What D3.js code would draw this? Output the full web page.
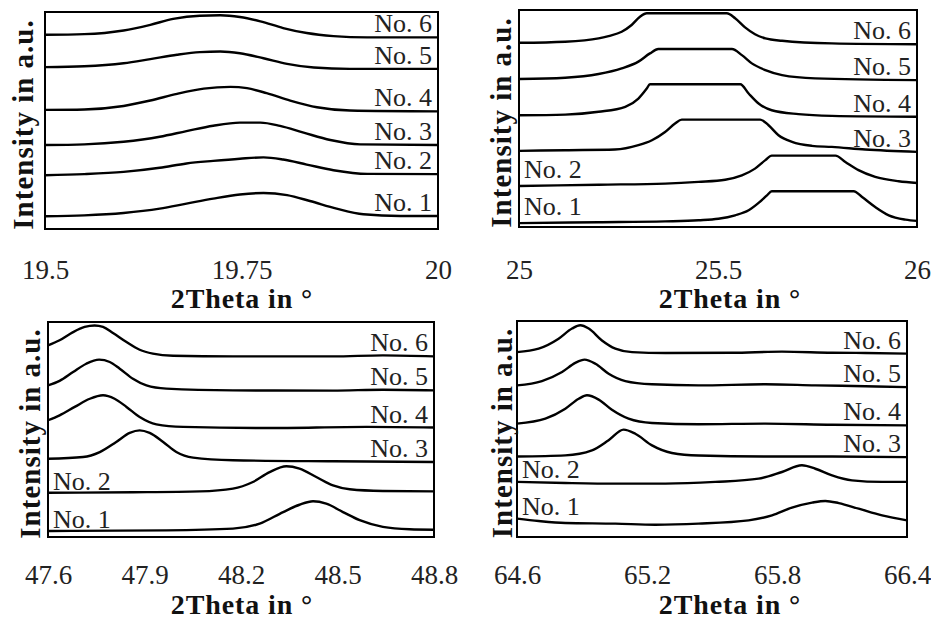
<!DOCTYPE html>
<html>
<head>
<meta charset="utf-8">
<script src="https://cdn.jsdelivr.net/npm/d3@7"></script>
<style>
  body { margin: 0; background: #fff; }
  svg text { font-family: "Liberation Serif", "Times New Roman", serif; }
</style>
</head>
<body>
<svg id="chart" width="931" height="620"></svg>
<script>
// Sample names, bottom to top
const sampleNames = ["No. 1", "No. 2", "No. 3", "No. 4", "No. 5", "No. 6"];

// 2θ tick positions and their labels for each reflection window
const ticks19 = [19.5, 19.75, 20];
const tickText19 = ["19.5", "19.75", "20"];
const ticks25 = [25, 25.5, 26];
const tickText25 = ["25", "25.5", "26"];
const ticks48 = [47.6, 47.9, 48.2, 48.5, 48.8];
const tickText48 = ["47.6", "47.9", "48.2", "48.5", "48.8"];
const ticks65 = [64.6, 65.2, 65.8, 66.4];
const tickText65 = ["64.6", "65.2", "65.8", "66.4"];

// Stacked diffraction intensity (a.u.), [2θ, intensity], samples No. 1 … No. 6
const scan19 = [
  [[19.5,5.9],[19.55,6.3],[19.6,7.4],[19.646,9.4],[19.68,11.7],[19.714,14.0],[19.748,15.9],[19.778,16.6],[19.808,15.6],[19.837,12.9],[19.871,9.4],[19.905,6.8],[19.952,6.0],[20,6.0]],
  [[19.5,24.8],[19.55,25.3],[19.6,26.3],[19.646,28.2],[19.68,30.2],[19.714,31.4],[19.748,32.4],[19.778,33.0],[19.803,32.0],[19.833,29.7],[19.867,27.1],[19.91,25.4],[20,25.3]],
  [[19.5,38.7],[19.55,39.0],[19.6,40.2],[19.646,42.5],[19.68,45.1],[19.714,47.6],[19.748,49.0],[19.774,49.0],[19.799,47.5],[19.829,44.4],[19.863,41.0],[19.901,39.0],[20,38.7]],
  [[19.5,54.9],[19.55,55.1],[19.6,56.7],[19.634,59.2],[19.668,62.3],[19.702,64.7],[19.736,65.5],[19.757,64.9],[19.782,62.6],[19.812,59.2],[19.846,56.1],[19.888,54.6],[20,54.2]],
  [[19.5,74.6],[19.55,75.0],[19.6,76.4],[19.634,78.3],[19.668,80.3],[19.697,81.5],[19.723,81.8],[19.748,81.0],[19.778,78.7],[19.808,76.1],[19.842,74.4],[19.888,73.8],[20,73.8]],
  [[19.5,89.5],[19.55,89.8],[19.6,91.5],[19.634,94.1],[19.663,96.8],[19.697,98.3],[19.723,98.5],[19.748,97.7],[19.774,95.7],[19.803,92.6],[19.833,90.3],[19.867,88.9],[19.91,88.3],[20,88.3]]
];

const scan25 = [
  [[25,1.8],[25.2,2.2],[25.367,2.6],[25.451,3.1],[25.501,3.8],[25.543,5.4],[25.577,7.7],[25.602,11.1],[25.623,14.6],[25.635,16.5],[25.841,16.5],[25.862,13.8],[25.895,9.2],[25.929,5.4],[25.971,3.4],[26,2.8]],
  [[25,18.9],[25.2,19.5],[25.367,20.0],[25.451,20.8],[25.518,21.8],[25.56,23.8],[25.593,26.9],[25.619,30.8],[25.635,32.9],[25.795,32.9],[25.82,30.0],[25.853,26.2],[25.895,23.1],[25.954,21.1],[26,20.3]],
  [[25,35.1],[25.116,35.4],[25.241,35.7],[25.3,37.7],[25.334,40.0],[25.367,43.8],[25.392,47.7],[25.409,49.5],[25.606,49.5],[25.627,46.9],[25.652,42.3],[25.686,39.2],[25.736,37.4],[25.786,36.9],[25.87,35.7],[26,34.6]],
  [[25,51.5],[25.116,51.8],[25.2,53.1],[25.267,55.4],[25.3,59.2],[25.321,63.8],[25.329,65.8],[25.556,65.8],[25.577,61.5],[25.602,56.9],[25.635,53.8],[25.702,52.0],[25.786,51.2],[26,50.8]],
  [[25,68.2],[25.116,68.8],[25.2,70.5],[25.258,73.1],[25.3,76.2],[25.329,80.0],[25.35,82.0],[25.535,82.0],[25.56,79.2],[25.585,75.4],[25.619,72.3],[25.661,70.0],[25.744,68.5],[26,67.7]],
  [[25,84.9],[25.116,85.4],[25.2,86.9],[25.225,88.0],[25.258,90.0],[25.283,93.1],[25.304,96.9],[25.321,98.5],[25.522,98.5],[25.543,96.2],[25.568,92.0],[25.593,88.8],[25.619,86.9],[25.661,85.8],[25.786,84.6],[26,84.2]]
];

const scan48 = [
  [[47.6,2.8],[47.968,3.1],[48.175,3.9],[48.258,6.2],[48.331,11.6],[48.382,15.0],[48.424,16.6],[48.465,15.5],[48.517,11.6],[48.569,7.8],[48.641,4.7],[48.724,3.6],[48.8,3.4]],
  [[47.6,20.6],[47.864,20.8],[48.072,21.2],[48.175,22.5],[48.237,25.6],[48.289,30.2],[48.341,32.9],[48.382,31.8],[48.434,27.9],[48.486,24.0],[48.538,22.2],[48.641,21.4],[48.8,21.2]],
  [[47.6,36.4],[47.709,37.2],[47.761,39.5],[47.812,44.2],[47.854,48.4],[47.885,49.6],[47.916,48.4],[47.958,44.2],[47.999,39.5],[48.051,36.9],[48.175,35.7],[48.486,35.2],[48.8,34.9]],
  [[47.6,54.3],[47.636,56.6],[47.683,60.5],[47.73,64.3],[47.771,65.9],[47.807,64.3],[47.844,60.5],[47.885,55.8],[47.937,52.4],[48.02,51.2],[48.279,50.7],[48.59,51.2],[48.8,50.9]],
  [[47.6,70.5],[47.636,72.6],[47.678,76.7],[47.719,80.6],[47.759,82.5],[47.792,81.4],[47.823,78.3],[47.864,73.6],[47.906,70.5],[47.968,69.0],[48.175,68.2],[48.486,68.1],[48.641,68.5],[48.8,68.2]],
  [[47.6,89.1],[47.636,91.5],[47.678,95.3],[47.714,97.7],[47.745,98.4],[47.771,97.7],[47.802,94.9],[47.844,90.7],[47.885,87.1],[47.926,85.3],[47.989,84.3],[48.175,84.0],[48.486,84.0],[48.641,84.5],[48.8,84.0]]
];

const scan65 = [
  [[64.6,8.5],[64.7,7.4],[64.823,6.5],[65.054,6.2],[65.238,5.7],[65.438,6.2],[65.669,7.7],[65.777,10.0],[65.869,13.6],[65.962,15.9],[66.023,16.7],[66.085,15.7],[66.177,13.1],[66.285,10.0],[66.4,7.7]],
  [[64.6,25.5],[64.823,25.0],[65.054,24.7],[65.285,24.7],[65.515,25.5],[65.715,27.0],[65.823,30.1],[65.915,33.2],[65.977,31.6],[66.054,28.5],[66.146,26.2],[66.285,25.5],[66.4,25.5]],
  [[64.6,37.3],[64.823,37.8],[64.946,40.1],[65.023,44.8],[65.092,49.7],[65.146,47.8],[65.223,42.4],[65.315,38.9],[65.438,37.7],[65.746,37.3],[66.054,37.3],[66.4,37.0]],
  [[64.6,52.5],[64.731,54.8],[64.823,59.4],[64.885,64.0],[64.923,65.6],[64.977,63.6],[65.038,58.9],[65.115,54.8],[65.223,52.8],[65.438,52.2],[65.746,52.5],[66.054,52.0],[66.4,51.7]],
  [[64.6,70.2],[64.715,72.2],[64.808,76.4],[64.869,80.6],[64.912,82.1],[64.962,80.2],[65.023,75.6],[65.1,72.2],[65.223,70.7],[65.438,70.2],[65.746,70.7],[65.977,70.2],[66.208,69.8],[66.4,69.4]],
  [[64.6,85.6],[64.7,87.2],[64.792,91.8],[64.854,96.5],[64.892,98.0],[64.931,96.5],[64.992,91.0],[65.054,87.2],[65.131,85.6],[65.285,85.2],[65.592,85.3],[65.823,85.8],[66.054,85.3],[66.208,85.2],[66.4,84.9]]
];

// Which samples get their name on the left edge of each panel
const leftLabels19 = [];
const leftLabels25 = ["No. 1", "No. 2"];
const leftLabels48 = ["No. 1", "No. 2"];
const leftLabels65 = ["No. 1", "No. 2"];

// Panel layout
const panels = [
  { scans: scan19, ticks: ticks19, tickText: tickText19, left: leftLabels19,
    box: { x0: 45, x1: 438, y0: 12, y1: 229 }, titleX: 242, yLabelX: 33, leftLift: 6,
    tickDy: 50, titleDy: 79 },
  { scans: scan25, ticks: ticks25, tickText: tickText25, left: leftLabels25,
    box: { x0: 519, x1: 917, y0: 10, y1: 227 }, titleX: 730, yLabelX: 511, leftLift: 8,
    tickDy: 52, titleDy: 81 },
  { scans: scan48, ticks: ticks48, tickText: tickText48, left: leftLabels48,
    box: { x0: 48, x1: 434, y0: 322, y1: 537 }, titleX: 242, yLabelX: 40, leftLift: 3,
    tickDy: 47, titleDy: 76.5 },
  { scans: scan65, ticks: ticks65, tickText: tickText65, left: leftLabels65,
    box: { x0: 517, x1: 907, y0: 321, y1: 537 }, titleX: 730, yLabelX: 512, leftLift: 4,
    tickDy: 47, titleDy: 76.5 }
];

const svg = d3.select("#chart");

panels.forEach(p => {
  const b = p.box;
  const x = d3.scaleLinear()
    .domain([p.ticks[0], p.ticks[p.ticks.length - 1]])
    .range([b.x0, b.x1]);
  const y = d3.scaleLinear().domain([0, 100]).range([b.y1, b.y0]);

  const g = svg.append("g");

  // frame
  g.append("rect")
    .attr("x", b.x0).attr("y", b.y0)
    .attr("width", b.x1 - b.x0).attr("height", b.y1 - b.y0)
    .attr("fill", "none").attr("stroke", "#000").attr("stroke-width", 2);

  const line = d3.line()
    .x(d => x(d[0])).y(d => y(d[1]))
    .curve(d3.curveMonotoneX);

  // diffraction traces
  g.selectAll("path.trace")
    .data(p.scans)
    .join("path")
    .attr("class", "trace")
    .attr("d", line)
    .attr("fill", "none")
    .attr("stroke", "#000")
    .attr("stroke-width", 2.4)
    .attr("stroke-linejoin", "round");

  // sample names
  p.scans.forEach((s, i) => {
    const name = sampleNames[i];
    const onLeft = p.left.includes(name);
    const end = onLeft ? s[0] : s[s.length - 1];
    g.append("text")
      .attr("x", onLeft ? b.x0 + 5 : b.x1 - 6)
      .attr("y", y(end[1]) - (onLeft ? p.leftLift : 5))
      .attr("text-anchor", onLeft ? "start" : "end")
      .attr("font-size", 26)
      .attr("fill", "#222")
      .text(name);
  });

  // 2θ axis: labels only
  const axis = d3.axisBottom(x)
    .tickValues(p.ticks)
    .tickFormat((d, i) => p.tickText[i])
    .tickSize(0)
    .tickSizeOuter(0);
  const ax = g.append("g").attr("transform", `translate(0,${b.y1})`).call(axis);
  ax.select(".domain").remove();
  ax.selectAll("text")
    .attr("y", p.tickDy).attr("dy", null)
    .attr("font-size", 27)
    .attr("font-family", "Liberation Serif, serif")
    .attr("fill", "#222");

  g.append("text")
    .attr("x", p.titleX).attr("y", b.y1 + p.titleDy)
    .attr("text-anchor", "middle")
    .attr("font-size", 28).attr("font-weight", "bold")
    .attr("letter-spacing", 0.9)
    .attr("fill", "#111")
    .text("2Theta in °");

  g.append("text")
    .attr("transform", `translate(${p.yLabelX},${(b.y0 + b.y1) / 2 + 4}) rotate(-90)`)
    .attr("text-anchor", "middle")
    .attr("font-size", 29).attr("font-weight", "bold")
    .attr("letter-spacing", 1)
    .attr("fill", "#111")
    .text("Intensity in a.u.");
});
</script>
</body>
</html>
